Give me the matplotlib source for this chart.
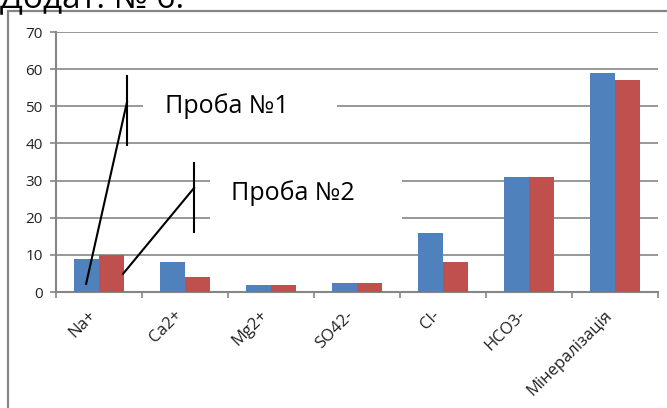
import numpy as np
import matplotlib.pyplot as plt
from matplotlib.patches import Rectangle

plt.rcParams['font.family'] = ['Open Sans', 'DejaVu Sans']

categories = ["Na+", "Ca2+", "Mg2+", "SO42-", "Cl-", "HCO3-", "Мінералізація"]
sample1 = [9, 8, 2, 2.5, 16, 31, 59]
sample2 = [10, 4, 2, 2.5, 8, 31, 57]
yticks = [0, 10, 20, 30, 40, 50, 60, 70]

blue = "#4F81BD"
red = "#C0504D"
grid_gray = "#868686"

W, H = 667, 408
fig = plt.figure(figsize=(W / 100, H / 100), dpi=100)

# outer chart frame (right and bottom edges run off the image)
fig.patches.append(Rectangle((8 / W, -0.1), 1.2, (H - 11) / H + 0.1,
                             transform=fig.transFigure, fill=False,
                             edgecolor=grid_gray, lw=1.6, zorder=0))
# caption line above the chart, mostly cut off
fig.text(0.0, (H - 7) / H, "Додат. № 6.", fontsize=24, va="baseline",
         ha="left", color="black")

ax = fig.add_axes([56 / W, (H - 292) / H, (658 - 56) / W, 260 / H])

x = np.arange(len(categories))
w = 1 / 3.5
ax.bar(x - w / 2, sample1, w, color=blue, zorder=3)
ax.bar(x + w / 2, sample2, w, color=red, zorder=3)

ax.set_xlim(-0.5, len(categories) - 0.5)
ax.set_ylim(0, 70)
ax.set_yticks(yticks)
ax.yaxis.grid(True, color=grid_gray, lw=1.2)
ax.set_axisbelow(True)

for side in ("top", "right"):
    ax.spines[side].set_visible(False)
for side in ("left", "bottom"):
    ax.spines[side].set_color(grid_gray)
    ax.spines[side].set_linewidth(1.5)

ax.tick_params(axis="y", length=4.5, width=1.2, color=grid_gray,
               labelsize=11, labelcolor="#222222", pad=5)
ax.set_xticks(np.arange(len(categories) + 1) - 0.5, minor=False)
ax.set_xticklabels([])
ax.tick_params(axis="x", length=4.5, width=1.2, color=grid_gray)
ax.set_xticks(x, minor=True)
ax.set_xticklabels(categories, minor=True, rotation=45, ha="right",
                   fontsize=12, color="#222222")
ax.tick_params(axis="x", which="minor", length=0, pad=11)

# white boxes behind the sample labels
ax.add_patch(Rectangle((0.51, 44), 2.26, 11, facecolor="white",
                       edgecolor="none", zorder=2))
ax.add_patch(Rectangle((1.29, 14), 2.23, 20, facecolor="white",
                       edgecolor="none", zorder=2))
ax.text(0.77, 50, "Проба №1", fontsize=18, va="center", ha="left", zorder=4)
ax.text(1.54, 26.5, "Проба №2", fontsize=18, va="center", ha="left", zorder=4)

# callout leaders
ax.plot([-0.15, 0.326], [2.2, 51.2], color="black", lw=1.5, zorder=5)
ax.plot([0.326, 0.326], [39.6, 58.2], color="black", lw=1.5, zorder=5)
ax.plot([0.28, 1.105], [4.9, 28], color="black", lw=1.5, zorder=5)
ax.plot([1.105, 1.105], [16.2, 34.7], color="black", lw=1.5, zorder=5)

fig.savefig("out.png", dpi=100)
